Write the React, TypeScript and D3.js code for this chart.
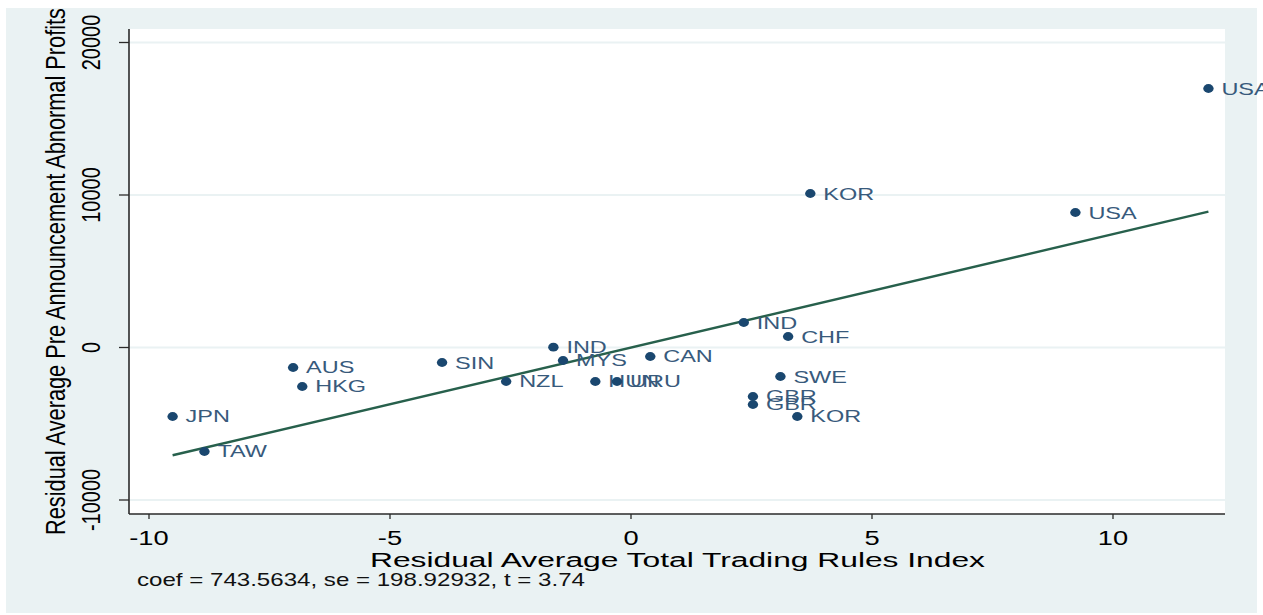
import React from "react";
import * as d3 from "d3";

// Added-variable plot: residual profits vs residual trading-rules index
const countries = ["USA", "KOR", "USA", "IND", "CHF", "IND", "MYS", "CAN", "SIN", "NZL", "HUN", "URU", "AUS", "HKG", "JPN", "TAW", "SWE", "GBR", "GBR", "KOR"];
const tradingRulesResid = [11.98, 3.72, 9.22, 2.34, 3.26, -1.61, -1.41, 0.4, -3.92, -2.59, -0.74, -0.29, -7.01, -6.82, -9.51, -8.85, 3.1, 2.53, 2.53, 3.45];
const profitsResid = [16983, 10098, 8852, 1639, 721, 20, -852, -590, -984, -2229, -2229, -2229, -1311, -2557, -4524, -6819, -1902, -3213, -3737, -4524];

const xTicks = [-10, -5, 0, 5, 10];
const yTicks = [-10000, 0, 10000, 20000];

const coef = 743.5634;
const se = 198.92932;
const tStat = 3.74;

const xTitle = "Residual Average Total Trading Rules Index";
const yTitle = "Residual Average Pre Announcement Abnormal Profits";

const W = 1263;
const H = 615;
const plot = { left: 129, right: 1225, top: 29, bottom: 514 };

const FONT = "'Liberation Sans', Arial, Helvetica, sans-serif";
const BG = "#eaf2f3";
const NAVY = "#1a476f";
const FIT = "#27604c";

type STextProps = {
  x: number;
  y: number;
  sx?: number;
  rotate?: boolean;
  anchor?: "start" | "middle" | "end";
  size: number;
  fill?: string;
  length?: number;
  children: React.ReactNode;
};

function SText({ x, y, sx = 1, rotate = false, anchor = "start", size, fill = "#000", length, children }: STextProps) {
  return (
    <text
      transform={`translate(${x},${y}) scale(${sx},1)${rotate ? " rotate(-90)" : ""}`}
      textAnchor={anchor}
      fontSize={size}
      fontFamily={FONT}
      fill={fill}
      {...(length ? { textLength: length, lengthAdjust: "spacingAndGlyphs" } : {})}
    >
      {children}
    </text>
  );
}

export default function App() {
  const x = d3.scaleLinear().domain([-10, 10]).range([149, 1113]);
  const y = d3.scaleLinear().domain([-10000, 20000]).range([500, 42.5]);

  const points = countries.map((c, i) => ({ c, x: tradingRulesResid[i], y: profitsResid[i] }));
  const [xMin, xMax] = d3.extent(tradingRulesResid) as [number, number];
  const fitLine = d3
    .line<number>()
    .x((d) => x(d))
    .y((d) => y(coef * d));

  return (
    <svg width={W} height={H} style={{ position: "absolute", left: 0, top: 0, background: "#fff" }}>
      {/* graph region */}
      <rect x={6} y={8} width={1251} height={605} fill={BG} />
      {/* plot region */}
      <rect x={plot.left} y={plot.top} width={plot.right - plot.left} height={plot.bottom - plot.top} fill="#fff" />

      {/* horizontal grid */}
      {yTicks.map((t) => (
        <line key={"g" + t} x1={plot.left} x2={plot.right} y1={y(t)} y2={y(t)} stroke={BG} strokeWidth={2} />
      ))}

      {/* axes */}
      <line x1={plot.left} x2={plot.left} y1={plot.top} y2={plot.bottom} stroke="#2a2a2a" strokeWidth={1.6} />
      <line x1={plot.left} x2={plot.right} y1={plot.bottom} y2={plot.bottom} stroke="#2a2a2a" strokeWidth={1.6} />
      {yTicks.map((t) => (
        <g key={"yt" + t}>
          <line x1={plot.left - 10} x2={plot.left} y1={y(t)} y2={y(t)} stroke="#2a2a2a" strokeWidth={1.3} />
          <SText x={100} y={y(t)} sx={1.25} rotate anchor="middle" size={20}>
            {String(t)}
          </SText>
        </g>
      ))}
      {xTicks.map((t) => (
        <g key={"xt" + t}>
          <line x1={x(t)} x2={x(t)} y1={plot.bottom} y2={plot.bottom + 5} stroke="#2a2a2a" strokeWidth={1.3} />
          <SText x={x(t)} y={545} sx={1.3} anchor="middle" size={21}>
            {String(t)}
          </SText>
        </g>
      ))}

      {/* fitted line */}
      <path d={fitLine([xMin, xMax]) || ""} fill="none" stroke={FIT} strokeWidth={2.5} />

      {/* points and labels */}
      {points.map((p, i) => (
        <g key={"p" + i}>
          <ellipse cx={x(p.x)} cy={y(p.y)} rx={5.2} ry={4.4} fill={NAVY} />
          <SText x={x(p.x) + 13} y={y(p.y) + 6} sx={1.38} size={17} fill="#385a7c">
            {p.c}
          </SText>
        </g>
      ))}

      {/* titles */}
      <SText x={65} y={(plot.top + plot.bottom) / 2} sx={1.3} rotate anchor="middle" size={21.5} length={527}>
        {yTitle}
      </SText>
      <SText x={677.5} y={567} anchor="middle" size={19.5} length={615}>
        {xTitle}
      </SText>
      <SText x={137} y={586} size={19} length={448} fill="#111">
        {`coef = ${coef}, se = ${se}, t = ${tStat}`}
      </SText>
    </svg>
  );
}
